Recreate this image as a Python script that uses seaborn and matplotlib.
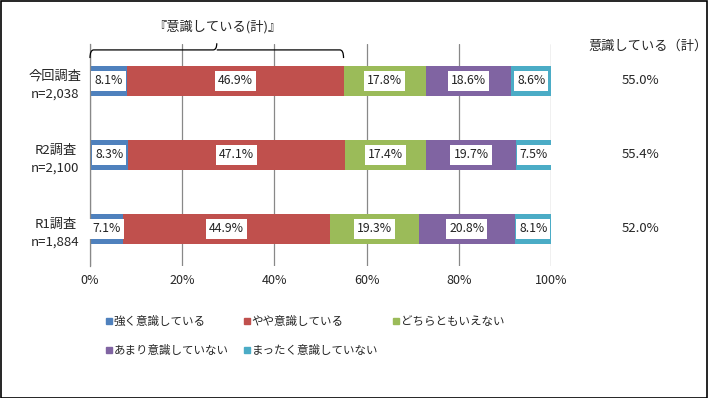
import numpy as np
import pandas as pd
import matplotlib
matplotlib.use("Agg")
import matplotlib.pyplot as plt
from matplotlib.lines import Line2D
from matplotlib.path import Path
from matplotlib.patches import PathPatch, Rectangle
import seaborn as sns

categories = ["今回調査\nn=2,038", "R2調査\nn=2,100", "R1調査\nn=1,884"]
series_names = ["強く意識している", "やや意識している", "どちらともいえない", "あまり意識していない", "まったく意識していない"]
strong = [8.1, 8.3, 7.1]
somewhat = [46.9, 47.1, 44.9]
neutral = [17.8, 17.4, 19.3]
notmuch = [18.6, 19.7, 20.8]
notatall = [8.6, 7.5, 8.1]
total_aware = ["55.0%", "55.4%", "52.0%"]
xticks = [0, 20, 40, 60, 80, 100]
colors = ["#4F81BD", "#C0504D", "#9BBB59", "#8064A2", "#4BACC6"]

sns.set_style("white")
plt.rcParams['font.family'] = ['Noto Sans CJK JP', 'DejaVu Sans']

series = [strong, somewhat, neutral, notmuch, notatall]
vals = np.array(series)
cum = np.cumsum(vals, axis=0)

fig = plt.figure(figsize=(7.08, 3.98), dpi=100)
ax = fig.add_axes([90/708, 1-266/398, 461/708, 222/398])

for i in range(len(series) - 1, -1, -1):
    df = pd.DataFrame({"cat": categories, "val": cum[i]})
    sns.barplot(data=df, x="val", y="cat", orient="h", color=colors[i],
                width=0.41, saturation=1, ax=ax, linewidth=0, zorder=2)

for i in range(len(series)):
    for j in range(len(categories)):
        center = cum[i][j] - vals[i][j] / 2
        ax.text(center, j, f"{vals[i][j]:.1f}%", ha="center", va="center", fontsize=8.8,
                color="#222222", zorder=5,
                bbox=dict(boxstyle="square,pad=0.25", fc="white", ec="none"))

ax.set_xlim(0, 100)
ax.set_ylim(2.5, -0.5)
ax.set_xticks(xticks)
ax.set_xticklabels([f"{t}%" for t in xticks], fontsize=9)
ax.set_yticks([-0.5, 0.5, 1.5, 2.5], minor=False)
ax.set_yticklabels([])
ax.set_yticks([0, 1, 2], minor=True)
ax.set_yticklabels(categories, minor=True, fontsize=9.5, linespacing=1.5, ha="center")
ax.tick_params(axis="y", which="minor", length=0, pad=25)
ax.tick_params(axis="y", which="major", length=5, color="#888888", direction="out")
ax.tick_params(axis="x", length=0, pad=6)
ax.set_xlabel("")
ax.set_ylabel("")
ax.grid(axis="x", color="#888888", linewidth=0.9, zorder=0)
ax.set_axisbelow(True)
for s in ["top", "right", "bottom"]:
    ax.spines[s].set_visible(False)
ax.spines["left"].set_color("#888888")
ax.spines["left"].set_linewidth(0.9)

# brace over the "aware" total
x0, x1 = 0, strong[0] + somewhat[0]
xm = (x0 + x1) / 2
y_end, y_mid, y_tip = -0.31, -0.42, -0.51
r = 0.8
verts = [(x0, y_end), (x0, y_mid), (x0 + r, y_mid),
         (xm - r, y_mid), (xm, y_mid), (xm, y_tip),
         (xm, y_mid), (xm + r, y_mid),
         (x1 - r, y_mid), (x1, y_mid), (x1, y_end)]
codes = [Path.MOVETO, Path.CURVE3, Path.CURVE3,
         Path.LINETO, Path.CURVE3, Path.CURVE3,
         Path.MOVETO, Path.CURVE3,
         Path.LINETO, Path.CURVE3, Path.CURVE3]
ax.add_patch(PathPatch(Path(verts, codes), fill=False, lw=0.9, ec="black", clip_on=False, zorder=6))
ax.text(xm, -0.73, "『意識している(計)』", ha="center", va="center", fontsize=9.5)

# right column
ax.text(1.21, -0.47, "意識している（計）", transform=ax.get_yaxis_transform(), ha="center",
        va="center", fontsize=9.5)
for j, t in enumerate(total_aware):
    ax.text(1.195, j, t, transform=ax.get_yaxis_transform(), ha="center", va="center", fontsize=9.5)

order = [0, 3, 1, 4, 2]
handles = [Line2D([], [], marker="s", linestyle="none", markersize=4.5,
                  markerfacecolor=colors[k], markeredgecolor=colors[k]) for k in order]
labels = [series_names[k] for k in order]
fig.legend(handles, labels, loc="upper left", bbox_to_anchor=(95/708, 1-305/398),
           ncol=3, frameon=False, fontsize=8.3, handlelength=0.6, handletextpad=0.1,
           columnspacing=1.3, labelspacing=1.35)

fig.add_artist(Rectangle((0.001, 0.001), 0.997, 0.997, transform=fig.transFigure,
                         fill=False, ec="black", lw=1.2))

fig.savefig("out.png", dpi=100)
